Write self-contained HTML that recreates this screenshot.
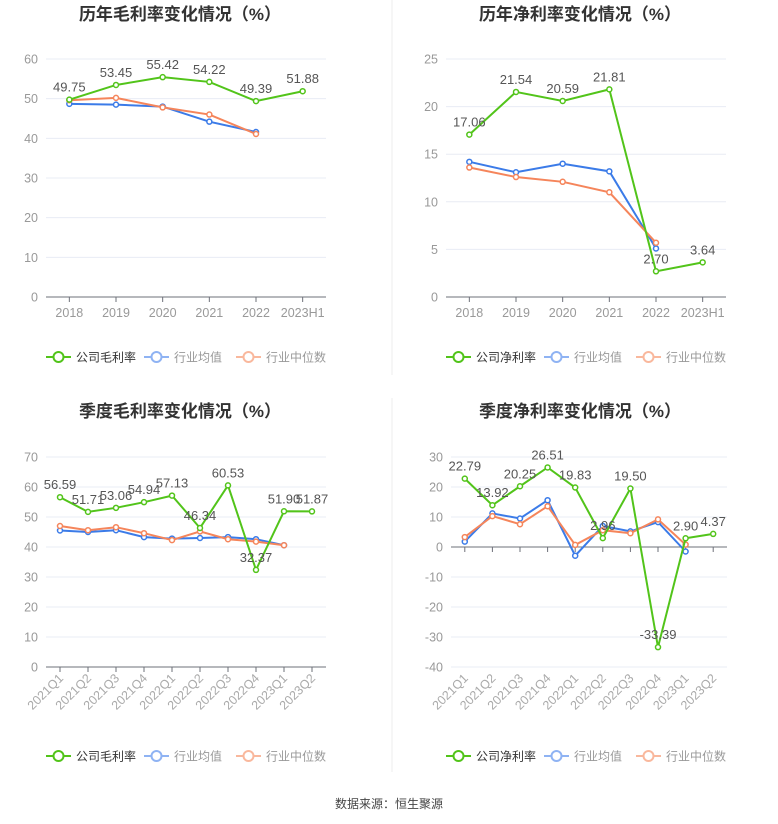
<!DOCTYPE html>
<html><head><meta charset="utf-8">
<style>
body{margin:0;background:#fff;width:778px;height:824px;overflow:hidden;font-family:"Liberation Sans","Noto Sans CJK SC",sans-serif;}
svg{display:block}
</style></head>
<body>
<svg id="root" width="778" height="824" xmlns="http://www.w3.org/2000/svg">
<line x1="392" y1="0" x2="392" y2="375" stroke="#eee"/>
<line x1="392" y1="398" x2="392" y2="772" stroke="#eee"/>
<text x="389" y="808" text-anchor="middle" font-size="12" fill="#444">数据来源：恒生聚源</text>
</svg>
<script>
const c1Cats=["2018","2019","2020","2021","2022","2023H1"];
const c1Company=[49.75,53.45,55.42,54.22,49.39,51.88];
const c1Avg=[48.7,48.5,48.0,44.2,41.6];
const c1Median=[49.6,50.2,47.8,46.0,41.1];
const c1Ticks=[0,10,20,30,40,50,60];

const c2Cats=["2018","2019","2020","2021","2022","2023H1"];
const c2Company=[17.06,21.54,20.59,21.81,2.70,3.64];
const c2Avg=[14.2,13.1,14.0,13.2,5.1];
const c2Median=[13.6,12.6,12.1,11.0,5.7];
const c2Ticks=[0,5,10,15,20,25];

const c3Cats=["2021Q1","2021Q2","2021Q3","2021Q4","2022Q1","2022Q2","2022Q3","2022Q4","2023Q1","2023Q2"];
const c3Company=[56.59,51.71,53.06,54.94,57.13,46.34,60.53,32.37,51.90,51.87];
const c3Avg=[45.5,45.0,45.6,43.3,42.8,43.0,43.3,42.6,40.6];
const c3Median=[47.0,45.6,46.6,44.6,42.3,45.2,42.6,41.8,40.6];
const c3Ticks=[0,10,20,30,40,50,60,70];

const c4Cats=["2021Q1","2021Q2","2021Q3","2021Q4","2022Q1","2022Q2","2022Q3","2022Q4","2023Q1","2023Q2"];
const c4Company=[22.79,13.92,20.25,26.51,19.83,2.96,19.50,-33.39,2.90,4.37];
const c4Avg=[1.8,11.2,9.5,15.6,-2.9,7.0,5.2,8.3,-1.5];
const c4Median=[3.3,10.3,7.6,13.6,0.7,5.6,4.6,9.2,0.8];
const c4Ticks=[-40,-30,-20,-10,0,10,20,30];

const NS="http://www.w3.org/2000/svg";
const root=document.getElementById('root');
function mk(tag,attrs,parent){const e=document.createElementNS(NS,tag);for(const k in attrs)e.setAttribute(k,attrs[k]);(parent||root).appendChild(e);return e;}

function chart(o){
  const g=mk('g',{});
  
  
  const min=o.ticks[0],max=o.ticks[o.ticks.length-1];
  const y=v=>o.y1-(v-min)/(max-min)*(o.y1-o.y0);
  const bw=(o.x1-o.x0)/o.cats.length;
  const x=i=>o.x0+bw*(i+0.5);
  const t=mk('text',{x:o.tx,y:o.ty,'text-anchor':'middle','font-size':17,'font-weight':'bold',fill:'#333'},g);
  t.textContent=o.title;
  
  
  o.ticks.forEach(v=>{
    const gl=mk('line',{x1:o.x0,x2:o.x1,y1:y(v),y2:y(v),stroke:'#e8ecf4'},g);
    
    
    const tl=mk('text',{x:o.x0-8,y:y(v)+4.5,'text-anchor':'end','font-size':12.5,fill:'#999'},g);
    tl.textContent=v;
    
    
  });
  const ax=mk('line',{x1:o.x0,x2:o.x1,y1:y(0),y2:y(0),stroke:'#6e7079'},g);
  
  
  o.cats.forEach((c,i)=>{
    mk('line',{x1:x(i),x2:x(i),y1:y(0),y2:y(0)+5,stroke:'#6e7079'},g);
    let lb;
    if(o.rot){
      lb=mk('text',{x:x(i)+4,y:o.y1+12,'text-anchor':'end','font-size':12.5,fill:'#aaa',transform:`rotate(-45 ${x(i)+4} ${o.y1+12})`},g);
    } else {
      lb=mk('text',{x:x(i),y:o.y1+20,'text-anchor':'middle','font-size':12.5,fill:'#999'},g);
    }
    lb.textContent=c;
    
    
  });
  const series=[[o.avg,'#3b7be8','industry-average-line'],[o.med,'#f5855b','industry-median-line'],[o.comp,'#52c41a','company-line']];
  series.forEach(([d,col,nm])=>{
    const p=mk('polyline',{points:d.map((v,i)=>x(i)+','+y(v)).join(' '),fill:'none',stroke:col,'stroke-width':2},g);
    
    
    d.forEach((v,i)=>{
      const c=mk('circle',{cx:x(i),cy:y(v),r:2.5,fill:'#fff',stroke:col,'stroke-width':1.5},g);
      
      
    });
  });
  o.comp.forEach((v,i)=>{
    const l=mk('text',{x:x(i),y:y(v)-8,'text-anchor':'middle','font-size':13,fill:'#555'},g);
    l.textContent=v.toFixed(2);
    
    
  });
  const lx=o.lx, ly=o.ly;
  const items=[[o.lname,'#52c41a','#333'],['行业均值','#8fb3f3','#999'],['行业中位数','#f9b89d','#999']];
  const offs=[0,98,190];
  items.forEach(([nm,col,tc],k)=>{
    const bx=lx+offs[k];
    const lg=mk('g',{},g);
    
    
    mk('line',{x1:bx,x2:bx+25,y1:ly,y2:ly,stroke:col,'stroke-width':2},lg);
    mk('circle',{cx:bx+12.5,cy:ly,r:5,fill:'#fff',stroke:col,'stroke-width':2},lg);
    const tt=mk('text',{x:bx+30,y:ly+4.5,'font-size':12,fill:tc},lg);
    tt.textContent=nm;
  });
}
chart({name:'annual-gross-margin-chart',title:'历年毛利率变化情况（%）',tx:180,ty:20,x0:46,x1:326,y0:59,y1:297,cats:c1Cats,comp:c1Company,avg:c1Avg,med:c1Median,ticks:c1Ticks,lname:'公司毛利率',lx:46,ly:357});
chart({name:'annual-net-margin-chart',title:'历年净利率变化情况（%）',tx:580,ty:20,x0:446,x1:726,y0:59,y1:297,cats:c2Cats,comp:c2Company,avg:c2Avg,med:c2Median,ticks:c2Ticks,lname:'公司净利率',lx:446,ly:357});
chart({name:'quarterly-gross-margin-chart',title:'季度毛利率变化情况（%）',tx:180,ty:417,x0:46,x1:326,y0:457,y1:667,cats:c3Cats,comp:c3Company,avg:c3Avg,med:c3Median,ticks:c3Ticks,lname:'公司毛利率',lx:46,ly:756,rot:true});
chart({name:'quarterly-net-margin-chart',title:'季度净利率变化情况（%）',tx:580,ty:417,x0:451,x1:727,y0:457,y1:667,cats:c4Cats,comp:c4Company,avg:c4Avg,med:c4Median,ticks:c4Ticks,lname:'公司净利率',lx:446,ly:756,rot:true});
</script>
</body></html>
